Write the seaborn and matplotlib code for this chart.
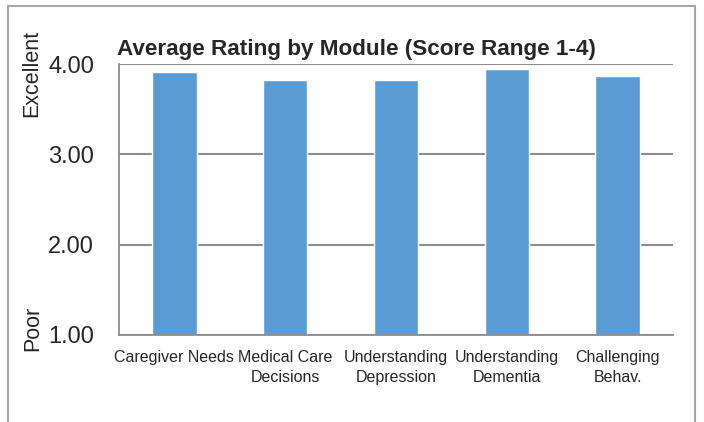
import matplotlib
matplotlib.use("Agg")
import matplotlib.pyplot as plt
import seaborn as sns
import pandas as pd
from matplotlib.lines import Line2D

modules = ["Caregiver Needs", "Medical Care\nDecisions", "Understanding\nDepression",
           "Understanding\nDementia", "Challenging\nBehav."]
ratings = [3.91, 3.82, 3.82, 3.94, 3.87]
yticks = [1.0, 2.0, 3.0, 4.0]

df = pd.DataFrame({"module": modules, "rating": ratings})

sns.set_style("white")
fonts = ["Liberation Sans", "DejaVu Sans"]
plt.rcParams["font.family"] = fonts

fig = plt.figure(figsize=(7.04, 4.22), dpi=100)
ax = fig.add_axes([0.169, 0.2062, 0.787, 0.6421])

# bars start at 1 (bottom of the scale)
sns.barplot(data=df, x="module", y="rating", color="#5B9BD5", saturation=1,
            width=0.4, ax=ax, bottom=1)
for p in ax.patches:
    p.set_height(p.get_height() - 1)

grey = "#8C8C8C"
ax.set_ylim(1, 4)
ax.set_xlim(-0.5, 4.5)
ax.set_yticks(yticks)
ax.set_yticklabels([f"{v:.2f}" for v in yticks], fontsize=17)
ax.set_xticks(range(len(modules)))
ax.set_xticklabels(modules, fontsize=11.5, linespacing=1.4)
ax.tick_params(axis="x", which="major", length=0, pad=11)
ax.set_xticks([i - 0.5 for i in range(len(modules) + 1)], minor=True)
ax.tick_params(axis="x", which="minor", length=5, color=grey, width=1.3)
ax.tick_params(axis="y", length=5, color=grey, width=1.3, pad=13)
ax.set_xlabel("")
ax.set_ylabel("")
ax.yaxis.grid(True, color=grey, lw=1.5)
ax.set_axisbelow(True)
for s in ["top", "right"]:
    ax.spines[s].set_visible(False)
for s in ["left", "bottom"]:
    ax.spines[s].set_color(grey)
    ax.spines[s].set_linewidth(1.3)

fig.text(0.506, 0.858, "Average Rating by Module (Score Range 1-4)",
         ha="center", va="bottom", fontsize=16.2, fontweight="bold")
fig.text(0.045, 0.827, "Excellent", rotation=90, ha="center", va="center", fontsize=15.5)
fig.text(0.047, 0.223, "Poor", rotation=90, ha="center", va="center", fontsize=15.5)

# outer chart border
bc = "#A6A6A6"
kw = dict(color=bc, lw=1.5, transform=fig.transFigure)
fig.add_artist(Line2D([0.012, 0.012], [0.0, 0.986], **kw))
fig.add_artist(Line2D([0.012, 0.987], [0.986, 0.986], **kw))
fig.add_artist(Line2D([0.987, 0.987], [0.0, 0.986], **kw))

fig.savefig("out.png", dpi=100)
